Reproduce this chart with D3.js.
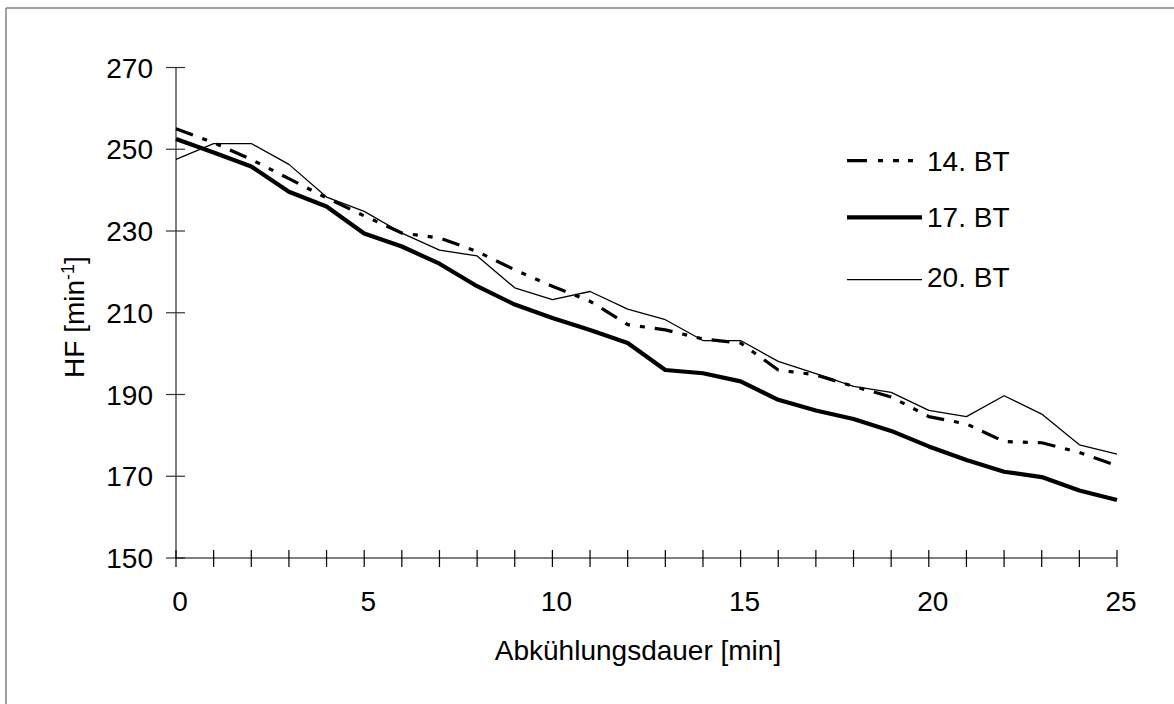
<!DOCTYPE html>
<html>
<head>
<meta charset="utf-8">
<script src="https://cdn.jsdelivr.net/npm/d3@7"></script>
<style>
  html, body { margin: 0; padding: 0; background: #fff; }
  svg { display: block; font-family: "Liberation Sans", Arial, sans-serif; }
</style>
</head>
<body>
<svg id="chart" width="1174" height="704"></svg>
<script>
// ---- data ----
const minutes = d3.range(0, 26);
const bt14 = [255.0, 251.6, 247.5, 242.8, 238.1, 233.7, 229.5, 228.3, 225.0, 220.5, 216.5, 212.8, 207.1, 205.8, 203.6, 202.6, 196.0, 194.8, 192.0, 189.4, 184.6, 182.8, 178.5, 178.2, 175.8, 172.6];
const bt17 = [252.5, 249.2, 245.8, 239.6, 236.0, 229.4, 226.2, 222.0, 216.5, 212.0, 208.7, 205.8, 202.6, 196.0, 195.2, 193.2, 188.7, 186.1, 184.0, 181.1, 177.3, 174.0, 171.1, 169.8, 166.5, 164.2];
const bt20 = [247.5, 251.4, 251.4, 246.3, 238.3, 234.8, 229.5, 225.3, 223.9, 216.1, 213.2, 215.2, 210.9, 208.3, 203.2, 203.2, 198.1, 195.1, 192.0, 190.5, 186.1, 184.6, 189.7, 185.2, 177.7, 175.4];
const seriesNames = ["14. BT", "17. BT", "20. BT"];
const yTicks = [150, 170, 190, 210, 230, 250, 270];
const xLabelTicks = [0, 5, 10, 15, 20, 25];
const xTitle = "Abkühlungsdauer [min]";

const series = [
  { name: seriesNames[0], values: bt14, width: 3.2, dash: "18,10,5,10,5,10", legendDash: "20,11,5,10,6,9,5" },
  { name: seriesNames[1], values: bt17, width: 4.2, dash: null, legendDash: null },
  { name: seriesNames[2], values: bt20, width: 1.3, dash: null, legendDash: null }
];

const svg = d3.select("#chart");
const fs = 28;

// outer frame (left and top edges visible)
svg.append("line").attr("x1", 6).attr("y1", 8).attr("x2", 1174).attr("y2", 8)
  .attr("stroke", "#808080").attr("stroke-width", 1.5);
svg.append("line").attr("x1", 6).attr("y1", 8).attr("x2", 6).attr("y2", 704)
  .attr("stroke", "#808080").attr("stroke-width", 1.5);

const x = d3.scaleLinear().domain([0, 25]).range([176, 1117]);
const y = d3.scaleLinear().domain([150, 270]).range([558, 67.5]);

// y axis
svg.append("line").attr("x1", x(0)).attr("x2", x(0)).attr("y1", y(270)).attr("y2", y(150))
  .attr("stroke", "#808080").attr("stroke-width", 2);
svg.selectAll(".ytick").data(yTicks).enter().append("line")
  .attr("x1", x(0) - 10).attr("x2", x(0) + 9)
  .attr("y1", d => y(d)).attr("y2", d => y(d))
  .attr("stroke", "#333").attr("stroke-width", 1.2);
svg.selectAll(".ylab").data(yTicks).enter().append("text")
  .attr("x", 153).attr("y", d => y(d)).attr("dy", "0.36em")
  .attr("text-anchor", "end").attr("font-size", fs).attr("fill", "#000")
  .text(d => d);

// x axis
svg.append("line").attr("x1", x(0)).attr("x2", x(25)).attr("y1", y(150)).attr("y2", y(150))
  .attr("stroke", "#000").attr("stroke-width", 1.2);
svg.selectAll(".xtick").data(minutes).enter().append("line")
  .attr("x1", d => x(d)).attr("x2", d => x(d))
  .attr("y1", y(150) - 8).attr("y2", y(150) + 9)
  .attr("stroke", "#000").attr("stroke-width", 1.2);
svg.selectAll(".xlab").data(xLabelTicks).enter().append("text")
  .attr("x", d => x(d) + 4).attr("y", 611)
  .attr("text-anchor", "middle").attr("font-size", fs).attr("fill", "#000")
  .text(d => d);

// titles
svg.append("text").attr("x", 638).attr("y", 660)
  .attr("text-anchor", "middle").attr("font-size", fs).attr("fill", "#000")
  .text(xTitle);
const yt = svg.append("text")
  .attr("transform", "translate(84,317) rotate(-90)")
  .attr("text-anchor", "middle").attr("font-size", fs).attr("fill", "#000");
yt.append("tspan").text("HF [min");
yt.append("tspan").attr("dy", -10).attr("font-size", 18).text("-1");
yt.append("tspan").attr("dy", 10).text("]");

// lines
const line = d3.line().x((d, i) => x(minutes[i])).y(d => y(d));
series.forEach(s => {
  svg.append("path").datum(s.values)
    .attr("d", line)
    .attr("fill", "none").attr("stroke", "#000")
    .attr("stroke-width", s.width)
    .attr("stroke-linejoin", "round")
    .attr("stroke-dasharray", s.dash);
});

// legend
const legY = [160.7, 217.3, 279.7];
const legTextY = [170.7, 227.3, 286.7];
series.forEach((s, i) => {
  svg.append("line").attr("x1", 847).attr("x2", 922)
    .attr("y1", legY[i]).attr("y2", legY[i])
    .attr("stroke", "#000").attr("stroke-width", s.width)
    .attr("stroke-dasharray", s.legendDash);
  svg.append("text").attr("x", 927).attr("y", legTextY[i])
    .attr("font-size", fs).attr("fill", "#000").text(s.name);
});
</script>
</body>
</html>
